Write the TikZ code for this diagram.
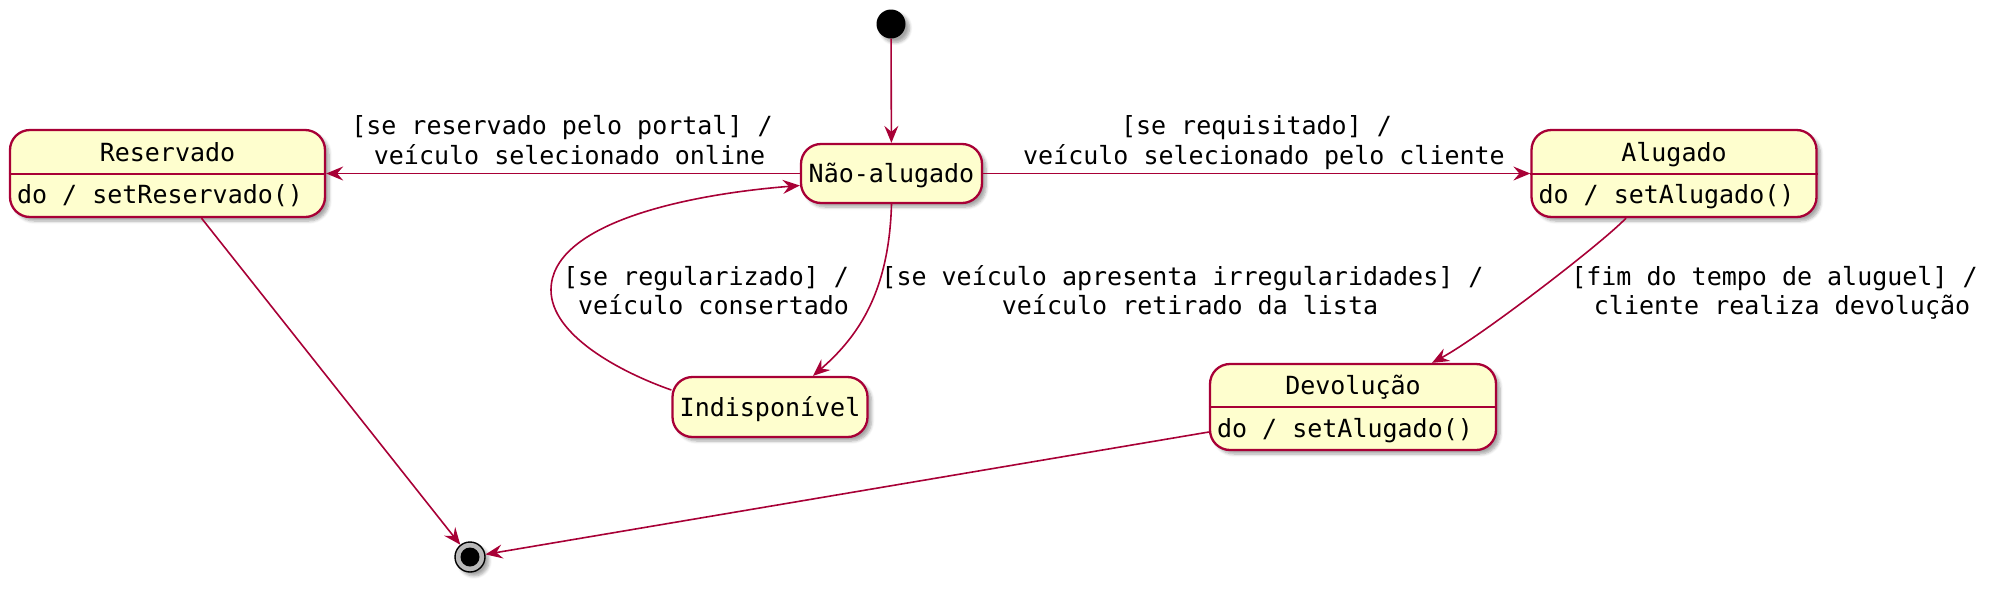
\documentclass[tikz,border=0pt]{standalone}
\usepackage{fontspec}
\setmainfont{DejaVu Sans Mono}
\usetikzlibrary{arrows.meta,shadows,shadows.blur,calc}
\definecolor{stfill}{HTML}{FEFECE}
\definecolor{stline}{HTML}{A80036}
\begin{document}
\begin{tikzpicture}[x=1pt,y=-1pt,
  txt/.style={font=\fontsize{25}{28.5}\selectfont, inner sep=0pt},
  shad/.style={blur shadow={shadow xshift=4pt, shadow yshift=-4pt, shadow blur steps=6, shadow blur radius=3pt, shadow opacity=35}},
  state/.style={draw=stline, fill=stfill, line width=2.3pt, rounded corners=20pt, shad},
  divider/.style={stline, line width=2pt},
  edge/.style={draw=stline, line width=1.6pt, -{Stealth[length=17pt,width=14pt,inset=6pt]}},
  lbl/.style={txt, align=center}]
\useasboundingbox (0,0) rectangle (1993,595);

% initial and final states
\node[circle, fill=black, minimum size=29pt, inner sep=0pt, shad] (ini) at (891,24) {};
\node[circle, draw=black, line width=1.4pt, fill=gray!55, minimum size=30pt, inner sep=0pt, shad] (fin) at (470,557) {};
\node[circle, fill=black, minimum size=19pt, inner sep=0pt] (finin) at (470,557) {};

% simple states
\node[state, txt, minimum width=181pt, minimum height=59pt] (nao) at (891.5,173.5) {};
\node[txt, anchor=base] (naot) at ([yshift=-9pt]nao.center) {Não-alugado};
\node[state, txt, minimum width=195pt, minimum height=60pt] (ind) at (770,407) {};
\node[txt, anchor=base] (indt) at ([yshift=-9pt]ind.center) {Indisponível};

% composite states
\node[state, minimum width=315pt, minimum height=87pt] (res) at (167.5,173.5) {};
\draw[divider] (res.west) -- (res.east);
\node[txt, anchor=base] (rest) at ([yshift=12.5pt]res.center) {Reservado};
\node[txt, anchor=base west] (resb) at ([xshift=8pt,yshift=-30pt]res.west) {do / setReservado()};

\node[state, minimum width=285pt, minimum height=87pt] (alu) at (1674,173.5) {};
\draw[divider] (alu.west) -- (alu.east);
\node[txt, anchor=base] (alut) at ([yshift=12.5pt]alu.center) {Alugado};
\node[txt, anchor=base west] (alub) at ([xshift=8pt,yshift=-30pt]alu.west) {do / setAlugado()};

\node[state, minimum width=286pt, minimum height=86pt] (dev) at (1353,407) {};
\draw[divider] (dev.west) -- (dev.east);
\node[txt, anchor=base] (devt) at ([yshift=12.5pt]dev.center) {Devolução};
\node[txt, anchor=base west] (devb) at ([xshift=8pt,yshift=-30pt]dev.west) {do / setAlugado()};

% transitions
\draw[edge] (ini) -- (nao);
\draw[edge] (nao.west) -- (res.east);
\draw[edge] (nao.east) -- (alu.west);
\draw[edge] (nao.south) .. controls (889,290) and (860,335) .. ([xshift=43pt]ind.north);
\draw[edge] ([yshift=17pt]ind.west) .. controls (620,372) and (551,335) .. (551,290)
   .. controls (551,225) and (680,195) .. ([yshift=-12pt]nao.west);
\draw[edge] ([xshift=-48pt]alu.south) .. controls (1600,245) and (1480,337) .. ([xshift=79pt]dev.north);
\draw[edge] ([xshift=34pt]res.south) -- (fin);
\draw[edge] ([yshift=-25pt]dev.west) -- (fin);

% labels
\node[lbl] (l1) at (562,143.8) {\strut[se reservado pelo portal] /\\\strut\hphantom{x}veículo selecionado online};
\node[lbl] (l2) at (1264,143.8) {\strut[se requisitado] /\hphantom{x}\\\strut veículo selecionado pelo cliente};
\node[lbl] (l3) at (706,294.3) {\strut[se regularizado] /\\\strut\hphantom{x}veículo consertado};
\node[lbl] (l4) at (1190,294.3) {\strut[se veículo apresenta irregularidades] /\hphantom{x}\\\strut veículo retirado da lista};
\node[lbl] (l5) at (1774.5,294.3) {\strut[fim do tempo de aluguel] /\\\strut\hphantom{x}cliente realiza devolução};
\end{tikzpicture}
\end{document}
